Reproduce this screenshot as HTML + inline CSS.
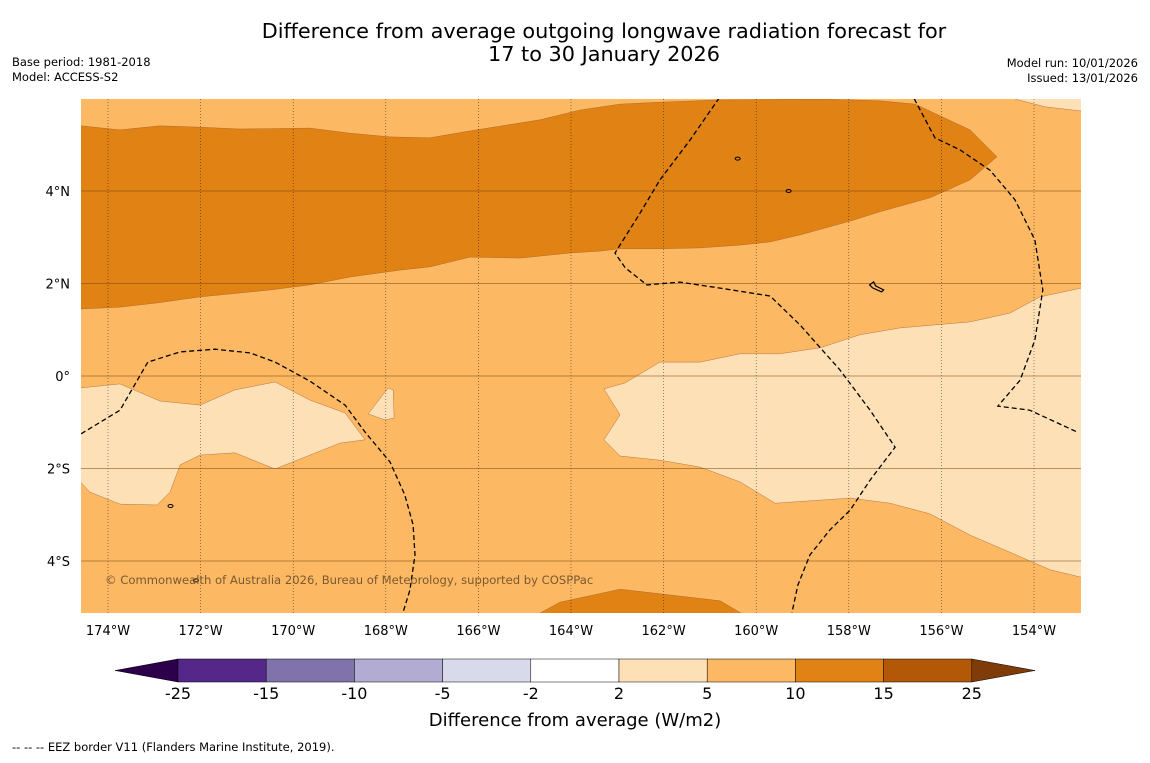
<!DOCTYPE html>
<html><head><meta charset="utf-8"><style>
body{margin:0;background:#fff;font-family:"Liberation Sans","DejaVu Sans",sans-serif;}
svg text{font-family:"DejaVu Sans","Liberation Sans",sans-serif;}
</style></head><body>
<svg id="c" width="1150" height="758" xmlns="http://www.w3.org/2000/svg">
<rect width="1150" height="758" fill="#ffffff"/>
<text x="604" y="38" font-size="20.8" text-anchor="middle">Difference from average outgoing longwave radiation forecast for</text>
<text x="604" y="61" font-size="20.8" text-anchor="middle">17 to 30 January 2026</text>
<text x="12" y="66" font-size="11.5">Base period: 1981-2018</text>
<text x="12" y="81" font-size="11.5">Model: ACCESS-S2</text>
<text x="1138" y="67" font-size="11.5" text-anchor="end">Model run: 10/01/2026</text>
<text x="1138" y="82" font-size="11.5" text-anchor="end">Issued: 13/01/2026</text>
<defs><clipPath id="mc"><rect x="81" y="99" width="1000" height="514"/></clipPath></defs>
<g id="map" clip-path="url(#mc)"></g>
<g id="axes"></g>
<text x="105" y="584" font-size="11.6" fill="#7a5a30">© Commonwealth of Australia 2026, Bureau of Meteorology, supported by COSPPac</text>
<g id="cbar"></g>
<text x="575" y="726" font-size="18" text-anchor="middle">Difference from average (W/m2)</text>
<text x="12" y="751" font-size="11.5">--  --  -- EEZ border V11 (Flanders Marine Institute, 2019).</text>
</svg>
<script>
const lonTicks=[-174,-172,-170,-168,-166,-164,-162,-160,-158,-156,-154];
const latTicks=[4,2,0,-2,-4];
const cbBounds=[-25,-15,-10,-5,-2,2,5,10,15,25];
const cbColors=["#542788","#8073ac","#b2abd2","#d8daeb","#ffffff","#fee0b6","#fdb863","#e08214","#b35806"];
const darkBand=[[-174.58,5.41],[-173.74,5.32],[-172.88,5.41],[-172.01,5.38],[-171.15,5.34],[-169.64,5.36],[-168.77,5.25],[-167.91,5.17],[-167.05,5.15],[-166.18,5.30],[-164.67,5.54],[-163.81,5.75],[-162.94,5.88],[-162.08,5.92],[-160.78,5.97],[-158.62,5.99],[-157.33,5.95],[-156.57,5.88],[-155.38,5.32],[-154.80,4.74],[-155.38,4.24],[-156.25,3.85],[-157.33,3.55],[-157.97,3.35],[-159.05,3.05],[-159.70,2.90],[-160.35,2.83],[-161.21,2.77],[-162.08,2.75],[-162.94,2.75],[-163.37,2.70],[-164.02,2.66],[-165.10,2.55],[-166.18,2.57],[-167.05,2.36],[-167.69,2.29],[-168.77,2.14],[-169.64,1.97],[-170.50,1.86],[-172.01,1.71],[-172.93,1.58],[-173.74,1.49],[-175,1.43],[-175,5.41]];
const darkSouth=[[-164.99,-5.3],[-164.24,-4.89],[-162.94,-4.61],[-161.65,-4.76],[-160.78,-4.86],[-160.03,-5.3]];
const lightWest=[[-175,-0.30],[-173.74,-0.17],[-172.88,-0.54],[-172.01,-0.63],[-171.26,-0.30],[-170.39,-0.13],[-169.64,-0.52],[-168.88,-0.80],[-168.45,-1.38],[-168.99,-1.45],[-169.64,-1.71],[-170.39,-2.01],[-171.26,-1.66],[-172.01,-1.71],[-172.44,-1.92],[-172.66,-2.51],[-172.94,-2.79],[-173.74,-2.77],[-174.39,-2.51],[-175,-1.86]];
const lightBlob=[[-168.38,-0.82],[-167.95,-0.26],[-167.84,-0.30],[-167.82,-0.91],[-168.02,-0.95]];
const lightEast=[[-163.29,-0.28],[-162.83,-0.15],[-162.08,0.30],[-161.21,0.30],[-160.35,0.48],[-159.49,0.48],[-158.62,0.61],[-157.76,0.89],[-156.89,1.04],[-155.38,1.17],[-154.52,1.36],[-153.87,1.71],[-152.98,1.90],[-152.5,1.95],[-152.5,-4.4],[-152.98,-4.35],[-153.65,-4.19],[-154.52,-3.81],[-155.38,-3.44],[-156.25,-2.98],[-157.11,-2.75],[-157.97,-2.64],[-159.59,-2.75],[-160.35,-2.29],[-161.21,-1.97],[-162.08,-1.82],[-162.94,-1.73],[-163.29,-1.38],[-162.94,-0.84]];
const lightNE=[[-154.41,6.2],[-154.41,5.99],[-153.76,5.82],[-152.98,5.73],[-152.5,5.7],[-152.5,6.2]];
const eez1=[[-160.60,6.3],[-161.43,5.10],[-162.08,4.24],[-162.51,3.52],[-163.05,2.66],[-162.83,2.34],[-162.36,1.97],[-161.65,2.03],[-160.78,1.90],[-159.70,1.73],[-159.05,1.10],[-158.19,0.13],[-157.54,-0.74],[-157.00,-1.54],[-157.54,-2.25],[-157.97,-2.90],[-158.41,-3.33],[-158.84,-3.87],[-159.10,-4.52],[-159.23,-5.12]];
const eez2=[[-156.75,6.3],[-156.14,5.15],[-155.60,4.89],[-154.95,4.45],[-154.41,3.81],[-153.98,2.94],[-153.81,1.86],[-153.98,0.78],[-154.30,-0.09],[-154.78,-0.65],[-154.09,-0.74],[-153.07,-1.21]];
const eez3=[[-174.58,-1.25],[-173.74,-0.74],[-173.14,0.30],[-172.44,0.52],[-171.69,0.58],[-170.93,0.50],[-170.39,0.30],[-169.64,-0.11],[-168.88,-0.63],[-168.45,-1.21],[-167.91,-1.86],[-167.59,-2.57],[-167.41,-3.22],[-167.37,-3.87],[-167.48,-4.63],[-167.63,-5.12]];
const NS="http://www.w3.org/2000/svg";
function X(lon){return 108+(lon+174)*46.3;}
function Y(lat){return 376-lat*46.25;}
function mk(tag,attrs,parent){const e=document.createElementNS(NS,tag);for(const k in attrs)e.setAttribute(k,attrs[k]);parent.appendChild(e);return e;}
function pts(a){return a.map(p=>X(p[0]).toFixed(1)+","+Y(p[1]).toFixed(1)).join(" ");}
const map=document.getElementById('map');
let bg=mk('rect',{x:81,y:99,width:1000,height:514,fill:'#fdb863'},map);


const regions=[[darkBand,'#e08214','anomaly-10-15-north'],[darkSouth,'#e08214','anomaly-10-15-south'],[lightWest,'#fee0b6','anomaly-2-5-west'],[lightBlob,'#fee0b6','anomaly-2-5-blob'],[lightEast,'#fee0b6','anomaly-2-5-east'],[lightNE,'#fee0b6','anomaly-2-5-northeast']];
regions.forEach(r=>{const p=mk('polygon',{points:pts(r[0]),fill:r[1],stroke:'#a0602a','stroke-width':0.4},map);

});
lonTicks.forEach(l=>{const ln=mk('line',{x1:X(l),x2:X(l),y1:99,y2:613,stroke:'#000','stroke-width':0.6,'stroke-dasharray':'1,2','opacity':0.7},map);

});
latTicks.forEach(l=>{const ln=mk('line',{x1:81,x2:1081,y1:Y(l),y2:Y(l),stroke:'#7a4a10','stroke-width':0.8,'opacity':0.7},map);

});
[eez1,eez2,eez3].forEach(e=>{const p=mk('polyline',{points:pts(e),fill:'none',stroke:'#000','stroke-width':1.3,'stroke-dasharray':'5,3'},map);

});
[[-159.3,4.0],[-172.65,-2.81],[-172.1,-4.42],[-160.4,4.7]].forEach(i=>{const e=mk('ellipse',{cx:X(i[0]),cy:Y(i[1]),rx:2.5,ry:1.5,fill:'none',stroke:'#000','stroke-width':1},map);

});
const isl=mk('path',{d:`M${X(-157.55)},${Y(1.97)} l4,-3 l2,4 l8,4 l-2,2 l-9,-4 z`,fill:'none',stroke:'#000','stroke-width':1.2},map);


const ax=document.getElementById('axes');
lonTicks.forEach(l=>{const t=mk('text',{x:X(l),y:635,'font-size':13,'text-anchor':'middle'},ax);t.textContent=(-l)+'°W';

});
latTicks.forEach(l=>{const t=mk('text',{x:70,y:Y(l)+5,'font-size':13,'text-anchor':'end'},ax);t.textContent=l===0?'0°':(Math.abs(l)+'°'+(l>0?'N':'S'));

});
const cb=document.getElementById('cbar');
const cx0=178,cw=88.2,cy=659,ch=23;
function CX(i){return cx0+i*cw;}
let tl=mk('polygon',{points:`115,670.5 ${cx0},${cy} ${cx0},${cy+ch}`,fill:'#2d004b',stroke:'#000','stroke-width':0.5},cb);


cbColors.forEach((c,i)=>{const r=mk('rect',{x:CX(i),y:cy,width:cw,height:ch,fill:c,stroke:'#000','stroke-width':0.5},cb);

});
let tr=mk('polygon',{points:`${CX(9)},${cy} 1035,670.5 ${CX(9)},${cy+ch}`,fill:'#7f3b08',stroke:'#000','stroke-width':0.5},cb);


cbBounds.forEach((b,i)=>{const t=mk('text',{x:CX(i),y:699,'font-size':16,'text-anchor':'middle'},cb);t.textContent=b;

});
</script>
</body></html>
